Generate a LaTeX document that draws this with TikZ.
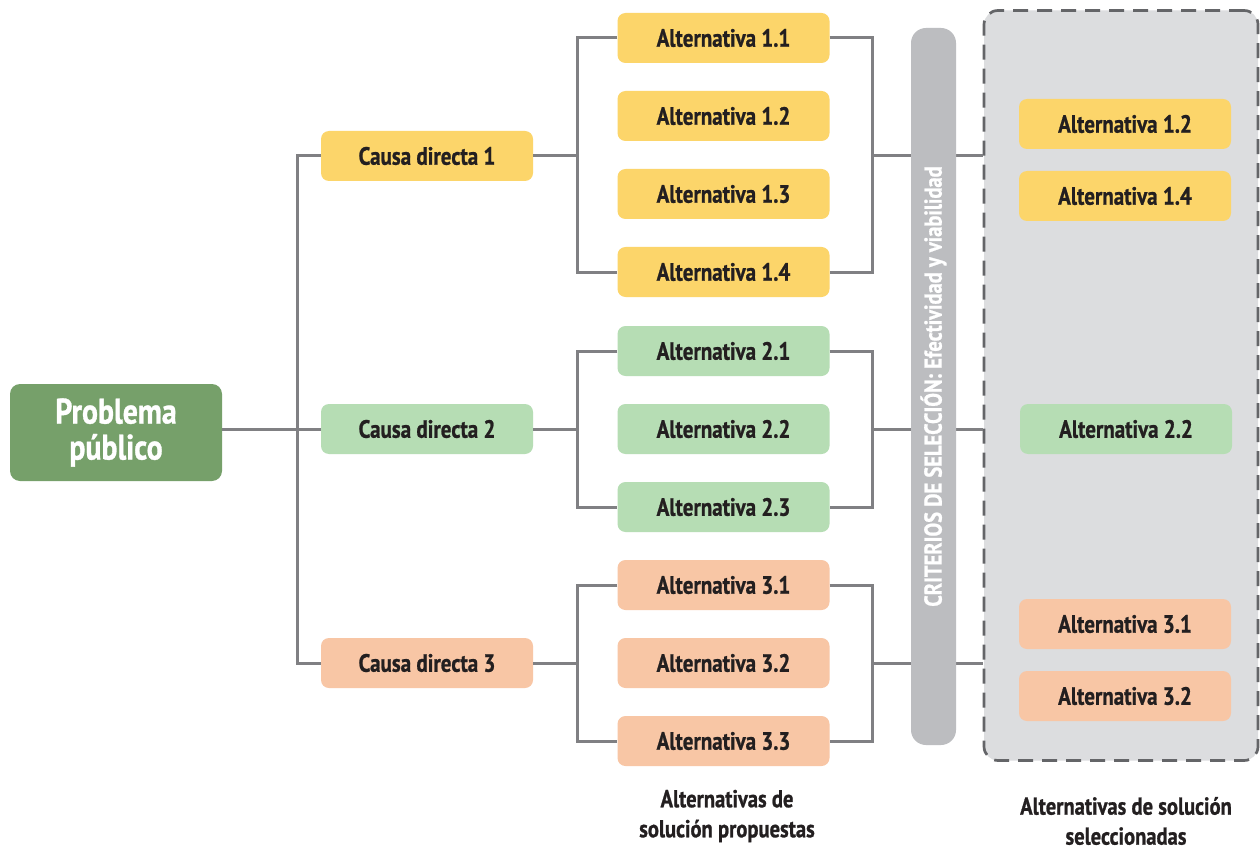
\documentclass[tikz,border=0pt]{standalone}
\usepackage{fontspec}
\setmainfont{PT Sans}[FakeStretch=0.84, BoldFeatures={FakeBold=0.9}]
\usetikzlibrary{calc}
\definecolor{ppgreen}{HTML}{76A06A}
\definecolor{cyellow}{HTML}{FCD56A}
\definecolor{cgreen}{HTML}{B6DDB4}
\definecolor{corange}{HTML}{F8C6A5}
\definecolor{lgray}{HTML}{808083}
\definecolor{bargray}{HTML}{BCBDC0}
\definecolor{selfill}{HTML}{DCDDDF}
\definecolor{dashgray}{HTML}{646568}
\definecolor{txt}{HTML}{231F20}
\tikzset{
  boxbase/.style={rounded corners=8pt, minimum width=212pt, minimum height=50pt, inner sep=0pt,
    text=txt, font=\fontsize{25}{28}\selectfont\bfseries},
  ybox/.style={boxbase, fill=cyellow},
  gbox/.style={boxbase, fill=cgreen},
  obox/.style={boxbase, fill=corange},
  ppbox/.style={rounded corners=10pt, fill=ppgreen, minimum width=212pt, minimum height=97pt,
    text=white, align=center, font=\fontsize{35.5}{36}\selectfont\bfseries},
  conn/.style={draw=lgray, line width=3pt},
  barbox/.style={fill=bargray, rounded corners=15pt, minimum width=45pt, minimum height=717pt, inner sep=0pt},
  selbox/.style={fill=selfill, draw=dashgray, line width=2.7pt, dash pattern=on 15pt off 9pt,
    rounded corners=14pt, minimum width=274pt, minimum height=750pt, inner sep=0pt},
  lab/.style={align=center, text=txt, font=\fontsize{24.5}{30}\selectfont\bfseries},
}
\begin{document}
\begin{tikzpicture}[x=1pt,y=-1pt]
\useasboundingbox (0,0) rectangle (1260,850);
\fill[white] (0,0) rectangle (1260,850);
% selected area
\node[selbox] (sel) at (1121,385.5) {};
% main
\node[ppbox] (pp) at (116,432.5) {Problema\\público};
\node[ybox] (c1) at (427,156) {Causa directa 1};
\node[gbox] (c2) at (427,429) {Causa directa 2};
\node[obox] (c3) at (427,663) {Causa directa 3};
\node[ybox] (a11) at (723.5,38) {Alternativa 1.1};
\node[ybox] (a12) at (723.5,116) {Alternativa 1.2};
\node[ybox] (a13) at (723.5,194) {Alternativa 1.3};
\node[ybox] (a14) at (723.5,272) {Alternativa 1.4};
\node[gbox] (a21) at (723.5,351) {Alternativa 2.1};
\node[gbox] (a22) at (723.5,429) {Alternativa 2.2};
\node[gbox] (a23) at (723.5,507) {Alternativa 2.3};
\node[obox] (a31) at (723.5,585) {Alternativa 3.1};
\node[obox] (a32) at (723.5,663) {Alternativa 3.2};
\node[obox] (a33) at (723.5,741) {Alternativa 3.3};
% selected
\node[ybox] (s12) at (1125,124) {Alternativa 1.2};
\node[ybox] (s14) at (1125,196) {Alternativa 1.4};
\node[gbox] (s22) at (1126,429) {Alternativa 2.2};
\node[obox] (s31) at (1125,624) {Alternativa 3.1};
\node[obox] (s32) at (1125,696) {Alternativa 3.2};
% connectors
\draw[conn] (pp.east |- c2) -- (c2.west);
\draw[conn] (c1.west) -- ++(-23,0) |- (c3.west);
% group 1
\draw[conn] (c1.east) -- ++(45,0);
\draw[conn] (a11.west) -- ++(-40,0) |- (a14.west);
\draw[conn] (a11.east) -- ++(43,0) |- (a14.east);
\coordinate (r1) at (c1 -| 872,0);
\draw[conn] (r1) -- (r1 -| sel.west);
% group 2
\draw[conn] (c2.east) -- ++(45,0);
\draw[conn] (a21.west) -- ++(-40,0) |- (a23.west);
\draw[conn] (a21.east) -- ++(43,0) |- (a23.east);
\coordinate (r2) at (c2 -| 872,0);
\draw[conn] (r2) -- (r2 -| sel.west);
% group 3
\draw[conn] (c3.east) -- ++(45,0);
\draw[conn] (a31.west) -- ++(-40,0) |- (a33.west);
\draw[conn] (a31.east) -- ++(43,0) |- (a33.east);
\coordinate (r3) at (c3 -| 872,0);
\draw[conn] (r3) -- (r3 -| sel.west);
% criteria bar
\node[barbox] (crit) at (933.5,386.5) {};
\node[rotate=90, text=white, font=\fontsize{24.4}{26}\selectfont\bfseries] (crittext) at (crit.center) {CRITERIOS DE SELECCIÓN: Efectividad y viabilidad};
% labels
\node[lab] (lab1) at (727,816) {Alternativas de\\solución propuestas};
\node[lab] (lab2) at (1126,821) {Alternativas de solución\\seleccionadas};
\end{tikzpicture}
\end{document}
